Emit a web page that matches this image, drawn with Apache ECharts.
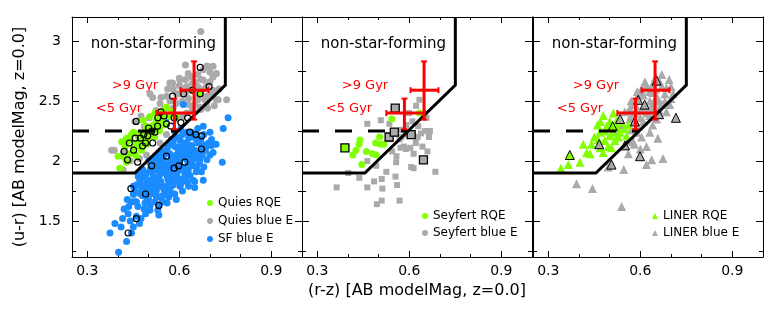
<!DOCTYPE html>
<html><head><meta charset="utf-8">
<script src="https://cdn.jsdelivr.net/npm/echarts@6/dist/echarts.min.js"></script>
<style>html,body{margin:0;padding:0;background:#fff}#c{width:774px;height:312px}</style>
</head><body><div id="c"></div>
<script>
// ---------- ticks ----------
const xMajor = [0.3, 0.6, 0.9];
const xMinor = [0.4, 0.5, 0.7, 0.8];
const yMajor = [1.5, 2, 2.5, 3];
const yMinor = [1.25, 1.75, 2.25, 2.75];

// ---------- boundary lines ----------
const boundX = [0.25, 0.455, 0.75, 0.75];
const boundY = [1.9, 1.9, 2.633, 3.2];
const dashX = [0.25, 0.596];
const dashY = [2.25, 2.25];

// ---------- error crosses (<5 Gyr, >9 Gyr) ----------
const crossX = [0.584, 0.648];
const crossXLo = [0.525, 0.604];
const crossXHi = [0.650, 0.695];
const crossY = [2.40, 2.59];
const crossYLo = [2.265, 2.345];
const crossYHi = [2.52, 2.83];

// ---------- panel 1: quiescent / SF ----------
const quiesRQE = [[0.406,1.94],[0.40,2.04],[0.428,1.99],[0.412,2.16],[0.428,2.19],[0.423,2.12],[0.45,2.11],[0.471,2.15],[0.444,2.22],[0.466,2.23],[0.488,2.20],[0.504,2.24],[0.493,2.29],[0.515,2.30],[0.526,2.34],[0.537,2.38],[0.547,2.42],[0.558,2.45],[0.569,2.37],[0.537,2.29],[0.52,2.20],[0.482,2.34],[0.504,2.37],[0.52,2.40],[0.477,2.09],[0.46,2.04],[0.439,2.06],[0.43,2.16],[0.44,2.18],[0.45,2.24],[0.46,2.15],[0.47,2.12],[0.475,2.21],[0.48,2.18],[0.49,2.25],[0.495,2.14],[0.50,2.19],[0.505,2.28],[0.51,2.21],[0.52,2.26],[0.53,2.31],[0.535,2.25],[0.545,2.35],[0.55,2.30],[0.56,2.38],[0.575,2.41],[0.59,2.38],[0.668,2.56],[0.42,2.03],[0.455,2.06]];
const quiesBlueE = [[0.67,3.08],[0.689,2.79],[0.721,2.73],[0.569,2.65],[0.624,2.62],[0.678,2.675],[0.71,2.59],[0.721,2.51],[0.754,2.51],[0.689,2.48],[0.591,2.56],[0.558,2.54],[0.504,2.56],[0.537,2.48],[0.455,2.33],[0.379,2.09],[0.417,1.925],[0.504,1.98],[0.493,2.05],[0.537,2.15],[0.558,2.22],[0.624,2.40],[0.645,2.425],[0.667,2.45],[0.656,2.535],[0.64,2.59],[0.602,2.675],[0.629,2.73],[0.678,2.76],[0.71,2.79],[0.692,2.79],[0.70,2.74],[0.578,2.65],[0.562,2.60],[0.54,2.53],[0.513,2.53],[0.60,2.69],[0.61,2.60],[0.643,2.65],[0.67,2.68],[0.66,2.51],[0.683,2.51],[0.705,2.56],[0.727,2.51],[0.714,2.46],[0.692,2.44],[0.67,2.43],[0.643,2.43],[0.55,2.43],[0.524,2.42],[0.502,2.36],[0.475,2.375],[0.466,2.21],[0.486,2.29],[0.388,2.09],[0.418,2.075],[0.59,2.48],[0.61,2.50],[0.63,2.52],[0.65,2.47],[0.62,2.57],[0.66,2.62],[0.68,2.60],[0.70,2.66],[0.64,2.70],[0.66,2.72],[0.62,2.80],[0.57,2.50],[0.59,2.35],[0.61,2.37],[0.58,2.60],[0.60,2.63],[0.69,2.54],[0.73,2.60],[0.44,2.00],[0.47,2.02],[0.63,2.47],[0.65,2.66],[0.67,2.58],[0.69,2.63],[0.71,2.70],[0.60,2.56],[0.58,2.44],[0.62,2.68]];
const sfBlueE = [[0.402,1.24],[0.374,1.40],[0.39,1.48],[0.41,1.45],[0.428,1.33],[0.444,1.40],[0.433,1.56],[0.46,1.54],[0.475,1.52],[0.444,1.66],[0.46,1.66],[0.488,1.65],[0.504,1.59],[0.533,1.55],[0.534,1.63],[0.471,1.73],[0.51,1.73],[0.537,1.70],[0.558,1.73],[0.585,1.725],[0.58,1.80],[0.547,1.79],[0.526,1.81],[0.493,1.81],[0.477,1.77],[0.482,1.87],[0.515,1.88],[0.537,1.91],[0.569,1.90],[0.591,1.88],[0.618,1.88],[0.624,1.83],[0.602,1.95],[0.629,1.98],[0.656,1.95],[0.672,1.91],[0.667,2.01],[0.645,2.04],[0.672,2.09],[0.70,2.05],[0.705,2.13],[0.74,1.99],[0.678,1.84],[0.65,1.83],[0.466,1.87],[0.547,2.01],[0.575,2.04],[0.526,1.98],[0.613,2.47],[0.556,2.35],[0.759,2.36],[0.743,2.27],[0.705,2.18],[0.678,2.29],[0.656,2.22],[0.624,2.15],[0.602,2.175],[0.585,2.12],[0.569,2.06],[0.537,2.01],[0.515,1.95],[0.493,1.90],[0.471,1.84],[0.45,1.79],[0.591,2.01],[0.624,2.01],[0.689,2.12],[0.629,1.925],[0.585,1.90],[0.564,1.84],[0.537,1.79],[0.515,1.73],[0.493,1.70],[0.602,1.79],[0.645,1.84],[0.50,1.76],[0.52,1.77],[0.55,1.76],[0.57,1.77],[0.60,1.85],[0.56,1.87],[0.53,1.85],[0.50,1.84],[0.49,1.86],[0.51,1.91],[0.54,1.94],[0.56,1.93],[0.58,1.96],[0.60,1.92],[0.62,1.94],[0.55,1.98],[0.57,2.00],[0.59,2.05],[0.61,2.08],[0.63,2.07],[0.60,2.12],[0.62,2.11],[0.64,2.13],[0.66,2.15],[0.65,2.09],[0.67,2.18],[0.63,2.19],[0.61,2.22],[0.64,2.24],[0.66,2.27],[0.59,2.20],[0.58,2.16],[0.56,2.10],[0.55,2.05],[0.53,2.04],[0.52,1.99],[0.50,2.00],[0.48,1.93],[0.47,1.90],[0.46,1.80],[0.48,1.79],[0.50,1.68],[0.52,1.66],[0.48,1.71],[0.45,1.72],[0.43,1.68],[0.42,1.60],[0.44,1.50],[0.45,1.45],[0.47,1.48],[0.49,1.56],[0.53,1.59],[0.56,1.65],[0.59,1.68],[0.61,1.75],[0.63,1.79],[0.65,1.78],[0.68,1.95],[0.69,2.01],[0.71,2.07],[0.72,2.14],[0.70,2.24],[0.68,2.22],[0.66,2.05],[0.64,1.99],[0.62,1.90],[0.58,1.85],[0.54,1.83],[0.51,1.81],[0.60,1.99],[0.57,1.94],[0.61,2.03],[0.63,2.02],[0.505,1.78],[0.525,1.75],[0.545,1.71],[0.565,1.80],[0.585,1.83],[0.595,1.93],[0.575,1.87],[0.555,1.90],[0.535,1.88],[0.515,1.84],[0.495,1.75],[0.475,1.81],[0.455,1.75],[0.465,1.62],[0.485,1.60],[0.505,1.63],[0.525,1.70],[0.545,1.66],[0.565,1.70],[0.575,1.73],[0.605,1.81],[0.615,1.85],[0.635,1.88],[0.655,1.91],[0.665,1.98],[0.645,1.96],[0.625,2.05],[0.605,2.05],[0.595,2.10],[0.615,2.15],[0.635,2.10],[0.655,2.02],[0.675,2.05],[0.685,2.09],[0.695,2.15],[0.675,2.14],[0.655,2.18],[0.645,2.20],[0.625,2.24],[0.605,2.27],[0.585,2.25],[0.575,2.18],[0.565,2.13],[0.545,2.08],[0.535,2.06],[0.515,2.02],[0.505,1.93],[0.525,1.93],[0.545,1.97],[0.565,1.96],[0.585,1.98],[0.455,1.66],[0.435,1.62],[0.415,1.52]];
const quiesRing = [[0.459,2.33],[0.451,2.09],[0.437,2.15],[0.456,2.19],[0.473,2.19],[0.484,2.22],[0.497,2.21],[0.51,2.25],[0.52,2.24],[0.529,2.29],[0.50,2.275],[0.48,2.125],[0.49,2.15],[0.513,2.15],[0.53,2.36],[0.55,2.375],[0.54,2.41],[0.558,2.31],[0.572,2.29],[0.583,2.36],[0.605,2.32],[0.627,2.36],[0.578,2.54],[0.614,2.56],[0.643,2.59],[0.668,2.56],[0.697,2.62],[0.668,2.78],[0.464,1.99],[0.42,2.08],[0.431,2.01],[0.442,1.77],[0.49,1.725],[0.533,1.63],[0.46,1.52],[0.433,1.40],[0.558,2.04],[0.583,1.94],[0.598,1.96],[0.618,1.99],[0.672,2.10],[0.673,2.21],[0.634,2.24],[0.654,2.22],[0.51,1.96]];

// ---------- panel 2: Seyfert ----------
const seyfertRQE = [[0.439,2.175],[0.436,2.14],[0.426,2.09],[0.416,2.05],[0.445,1.97],[0.46,2.08],[0.48,2.06],[0.492,2.05],[0.49,2.15],[0.503,2.20],[0.505,2.14],[0.517,2.14],[0.543,2.35],[0.633,2.40]];
const seyfertBlueE = [[0.363,1.78],[0.401,1.90],[0.437,1.86],[0.463,1.78],[0.485,1.83],[0.492,1.96],[0.463,2.00],[0.51,1.85],[0.512,1.77],[0.494,1.64],[0.51,1.67],[0.525,1.91],[0.555,1.87],[0.56,1.80],[0.568,1.67],[0.557,1.99],[0.544,2.08],[0.558,2.04],[0.571,2.11],[0.582,2.12],[0.574,2.20],[0.588,2.22],[0.603,2.11],[0.606,1.95],[0.614,1.94],[0.621,2.15],[0.627,2.20],[0.638,2.23],[0.629,2.29],[0.656,2.36],[0.651,2.25],[0.667,2.25],[0.659,2.08],[0.685,1.91],[0.633,2.51],[0.622,2.46],[0.599,2.40],[0.507,2.34],[0.463,2.31],[0.535,2.31],[0.549,2.23],[0.538,2.18],[0.568,2.18],[0.589,2.10],[0.614,2.06],[0.643,2.12],[0.664,2.20],[0.59,2.30],[0.61,2.33],[0.575,2.26]];
const seyfertBoxedBlue = [[0.554,2.44],[0.534,2.20],[0.551,2.24],[0.606,2.22],[0.646,2.01]];
const seyfertBoxedRQE = [[0.39,2.11]];

// ---------- panel 3: LINER ----------
const linerRQE = [[0.341,1.94],[0.365,1.97],[0.37,2.05],[0.403,1.99],[0.414,2.14],[0.425,2.07],[0.436,2.06],[0.441,2.14],[0.463,2.18],[0.468,2.11],[0.479,2.07],[0.484,2.17],[0.495,2.12],[0.50,2.21],[0.512,2.24],[0.484,2.25],[0.49,2.29],[0.50,2.33],[0.512,2.40],[0.523,2.28],[0.534,2.24],[0.528,2.20],[0.55,2.27],[0.555,2.21],[0.561,2.30],[0.479,2.38],[0.468,2.24],[0.506,2.11],[0.517,2.17],[0.523,2.34],[0.46,2.30],[0.47,2.33],[0.54,2.32],[0.45,2.20]];
const linerBlueE = [[0.539,1.62],[0.444,1.77],[0.392,1.81],[0.495,1.95],[0.546,1.93],[0.62,1.97],[0.637,2.01],[0.674,2.02],[0.577,2.16],[0.604,2.20],[0.631,2.24],[0.657,2.19],[0.685,2.41],[0.696,2.47],[0.669,2.47],[0.642,2.48],[0.653,2.54],[0.68,2.56],[0.707,2.56],[0.685,2.61],[0.663,2.66],[0.694,2.68],[0.615,2.66],[0.604,2.60],[0.588,2.52],[0.604,2.42],[0.582,2.40],[0.566,2.44],[0.55,2.41],[0.566,2.35],[0.593,2.29],[0.571,2.26],[0.62,2.45],[0.631,2.38],[0.653,2.35],[0.631,2.50],[0.588,2.24],[0.561,2.06],[0.60,2.55],[0.64,2.57],[0.62,2.63],[0.67,2.72],[0.65,2.60],[0.61,2.33],[0.58,2.14],[0.62,2.12],[0.64,2.30],[0.54,2.30],[0.53,2.25],[0.60,2.10],[0.56,2.17],[0.58,2.47],[0.60,2.36],[0.62,2.40],[0.64,2.44],[0.66,2.50],[0.68,2.50],[0.70,2.52],[0.67,2.62],[0.65,2.70],[0.63,2.58],[0.61,2.55],[0.59,2.58],[0.57,2.50],[0.57,2.38],[0.59,2.44],[0.66,2.43],[0.70,2.62],[0.64,2.64]];
const linerOutlinedBlue = [[0.506,1.97],[0.599,2.04],[0.466,2.14],[0.55,2.13],[0.661,2.39],[0.716,2.36],[0.653,2.67],[0.614,2.47],[0.582,2.33],[0.534,2.35],[0.593,2.51]];
const linerOutlinedRQE = [[0.37,2.05],[0.51,2.29]];

// ---------- style ----------
const GREEN = '#80ff00', GRAY = '#aaaaaa', BLUE = '#1a8cff', RED = '#ff0000';
const FONT = 'DejaVu Sans';
const lefts = [72, 302, 533];
const GW = 230, GT = 17, GH = 240;

const grids = lefts.map(l => ({left: l, top: GT, width: GW, height: GH, show: false}));
const xAxes = [], yAxes = [];
lefts.forEach((l, i) => {
  const base = {gridIndex: i, type: 'value', min: 0.25, max: 1.0, splitLine: {show: false}};
  const tl = {color: '#000', width: 1};
  xAxes.push(Object.assign({}, base, {position: 'bottom',
    axisLine: {show: true, onZero: false, lineStyle: tl},
    axisTick: {show: true, inside: true, length: 6, customValues: xMajor, lineStyle: tl},
    axisLabel: {show: true, customValues: xMajor, formatter: v => v.toFixed(1), color: '#000', fontSize: 14, fontFamily: FONT, margin: 7},
    name: i === 1 ? '(r-z) [AB modelMag, z=0.0]' : '', nameLocation: 'middle', nameGap: 25,
    nameTextStyle: {color: '#000', fontSize: 16, fontFamily: FONT}}));
  xAxes.push(Object.assign({}, base, {position: 'bottom', axisLine: {show: false, onZero: false},
    axisTick: {show: true, inside: true, length: 3, customValues: xMinor, lineStyle: tl}, axisLabel: {show: false}}));
  xAxes.push(Object.assign({}, base, {position: 'top',
    axisLine: {show: true, onZero: false, lineStyle: tl},
    axisTick: {show: true, inside: true, length: 6, customValues: xMajor, lineStyle: tl}, axisLabel: {show: false}}));
  xAxes.push(Object.assign({}, base, {position: 'top', axisLine: {show: false, onZero: false},
    axisTick: {show: true, inside: true, length: 3, customValues: xMinor, lineStyle: tl}, axisLabel: {show: false}}));

  const yb = {gridIndex: i, type: 'value', min: 1.2, max: 3.2, splitLine: {show: false}};
  yAxes.push(Object.assign({}, yb, {position: 'left',
    axisLine: {show: true, onZero: false, lineStyle: tl},
    axisTick: {show: true, inside: true, length: 7, customValues: yMajor, lineStyle: tl},
    axisLabel: {show: i === 0, customValues: yMajor, color: '#000', fontSize: 14, fontFamily: FONT, margin: 11},
    name: i === 0 ? '(u-r) [AB modelMag, z=0.0]' : '', nameLocation: 'middle', nameGap: 44,
    nameTextStyle: {color: '#000', fontSize: 16, fontFamily: FONT}}));
  yAxes.push(Object.assign({}, yb, {position: 'left', axisLine: {show: false, onZero: false},
    axisTick: {show: true, inside: true, length: 4, customValues: yMinor, lineStyle: tl}, axisLabel: {show: false}}));
  yAxes.push(Object.assign({}, yb, {position: 'right',
    axisLine: {show: true, onZero: false, lineStyle: tl},
    axisTick: {show: true, inside: true, length: 7, customValues: yMajor, lineStyle: tl}, axisLabel: {show: false}}));
  yAxes.push(Object.assign({}, yb, {position: 'right', axisLine: {show: false, onZero: false},
    axisTick: {show: true, inside: true, length: 4, customValues: yMinor, lineStyle: tl}, axisLabel: {show: false}}));
});

const series = [];
function sc(panel, name, data, symbol, size, color, border, z) {
  series.push({
    type: 'scatter', name: name, xAxisIndex: panel * 4, yAxisIndex: panel * 4,
    data: data, symbol: symbol, symbolSize: size, z: z || 2,
    itemStyle: Object.assign({color: color, opacity: 1}, border ? {borderColor: '#000', borderWidth: border} : {}),
    emphasis: {disabled: true}, silent: true
  });
}
// panel 1
sc(0, 'Quies blue E', quiesBlueE, 'circle', 7, GRAY);
sc(0, 'SF blue E', sfBlueE, 'circle', 7, BLUE);
sc(0, 'Quies RQE', quiesRQE, 'circle', 7, GREEN);
sc(0, 'ring1', quiesRing, 'circle', 6, 'rgba(0,0,0,0)', 1.2, 3);
// panel 2
sc(1, 'Seyfert blue E', seyfertBlueE, 'rect', 6, GRAY);
sc(1, 'Seyfert RQE', seyfertRQE, 'circle', 7, GREEN);
sc(1, 'box2', seyfertBoxedBlue, 'rect', 8, GRAY, 1.3, 3);
sc(1, 'box2g', seyfertBoxedRQE, 'rect', 8, GREEN, 1.3, 3);
// panel 3
sc(2, 'LINER blue E', linerBlueE, 'triangle', 9, GRAY);
sc(2, 'LINER RQE', linerRQE, 'triangle', 9, GREEN);
sc(2, 'tri3', linerOutlinedBlue, 'triangle', 9, GRAY, 1, 3);
sc(2, 'tri3g', linerOutlinedRQE, 'triangle', 9, GREEN, 1, 3);

const boundData = boundX.map((x, i) => [x, boundY[i]]);
const dashData = dashX.map((x, i) => [x, dashY[i]]);
const crossData = crossX.map((x, i) => [x, crossY[i], crossXLo[i], crossXHi[i], crossYLo[i], crossYHi[i]]);

for (let p = 0; p < 3; p++) {
  series.push({type: 'line', name: 'bound' + p, xAxisIndex: p * 4, yAxisIndex: p * 4, data: boundData,
    symbol: 'none', z: 5, silent: true, lineStyle: {color: '#000', width: 3, cap: 'butt', join: 'miter'}});
  series.push({type: 'line', name: 'dash' + p, xAxisIndex: p * 4, yAxisIndex: p * 4, data: dashData,
    symbol: 'none', z: 5, silent: true, lineStyle: {color: '#000', width: 3, type: [17, 16], cap: 'butt'}});
  series.push({type: 'custom', name: 'cross' + p, xAxisIndex: p * 4, yAxisIndex: p * 4, data: crossData, z: 6, silent: true,
    encode: {x: [0, 2, 3], y: [1, 4, 5]},
    renderItem: function (params, api) {
      const x = api.value(0), y = api.value(1);
      const L = api.coord([api.value(2), y]), R = api.coord([api.value(3), y]);
      const B = api.coord([x, api.value(4)]), T = api.coord([x, api.value(5)]);
      const st = {stroke: RED, lineWidth: 3};
      const cs = {stroke: RED, lineWidth: 2};
      const c = 3;
      return {type: 'group', children: [
        {type: 'line', shape: {x1: L[0], y1: L[1], x2: R[0], y2: R[1]}, style: st},
        {type: 'line', shape: {x1: B[0], y1: B[1], x2: T[0], y2: T[1]}, style: st},
        {type: 'line', shape: {x1: L[0], y1: L[1] - c, x2: L[0], y2: L[1] + c}, style: cs},
        {type: 'line', shape: {x1: R[0], y1: R[1] - c, x2: R[0], y2: R[1] + c}, style: cs},
        {type: 'line', shape: {x1: B[0] - c, y1: B[1], x2: B[0] + c, y2: B[1]}, style: cs},
        {type: 'line', shape: {x1: T[0] - c, y1: T[1], x2: T[0] + c, y2: T[1]}, style: cs}
      ]};
    }});
}

const legendText = {color: '#000', fontSize: 12, fontFamily: FONT};
const legends = [
  {left: 207, top: 197, itemGap: 6, data: [{name: 'Quies RQE', icon: 'circle'}, {name: 'Quies blue E', icon: 'circle'}, {name: 'SF blue E', icon: 'circle'}]},
  {left: 422, top: 210, itemGap: 5, data: [{name: 'Seyfert RQE', icon: 'circle'}, {name: 'Seyfert blue E', icon: 'circle'}]},
  {left: 652, top: 210, itemGap: 5, data: [{name: 'LINER RQE', icon: 'triangle'}, {name: 'LINER blue E', icon: 'triangle'}]}
].map(l => Object.assign({orient: 'vertical', itemWidth: 6, itemHeight: 6, itemStyle: {borderWidth: 0}, textStyle: legendText, selectedMode: false, padding: 0}, l));

const graphics = [];
[0, 230, 461].forEach(dx => {
  graphics.push({type: 'text', x: 153.5 + dx, y: 44, style: {text: 'non-star-forming', fill: '#000', font: '15px "DejaVu Sans"', textAlign: 'center', textVerticalAlign: 'middle'}});
  graphics.push({type: 'text', x: 135 + dx, y: 86, style: {text: '>9 Gyr', fill: RED, font: '13px "DejaVu Sans"', textAlign: 'center', textVerticalAlign: 'middle'}});
  graphics.push({type: 'text', x: 119 + dx, y: 109, style: {text: '<5 Gyr', fill: RED, font: '13px "DejaVu Sans"', textAlign: 'center', textVerticalAlign: 'middle'}});
});

const chart = echarts.init(document.getElementById('c'), null, {renderer: 'canvas'});
chart.setOption({
  animation: false, backgroundColor: '#fff',
  grid: grids, xAxis: xAxes, yAxis: yAxes, series: series, legend: legends, graphic: graphics
});
</script></body></html>
